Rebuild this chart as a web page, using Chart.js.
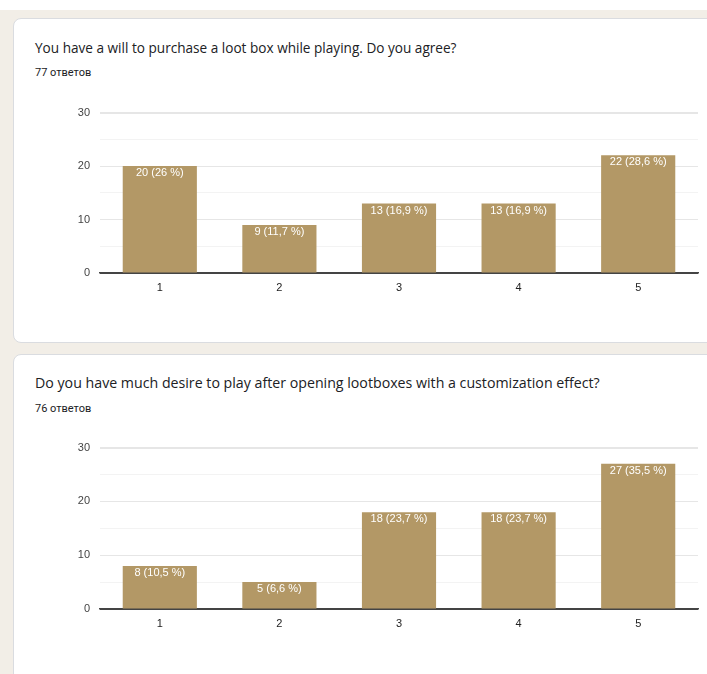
<!DOCTYPE html>
<html>
<head>
<meta charset="utf-8">
<script src="https://cdn.jsdelivr.net/npm/chart.js@4.4.0/dist/chart.umd.min.js"></script>
<style>
  html, body { margin: 0; padding: 0; background: #fff; }
  #page { position: relative; width: 707px; height: 674px; overflow: hidden; }
  .bg { position: absolute; left: 0; top: 10px; width: 707px; height: 664px; background: #f2eee7; }
  .card { position: absolute; left: 13px; width: 710px; background: #fff; border: 1px solid #dadce0; border-radius: 8px; box-sizing: border-box; }
  .title { position: absolute; left: 35px; font-family: "Open Sans", Roboto, sans-serif; font-size: 13.6px; color: #202124; white-space: nowrap; }
  .count { position: absolute; left: 35px; font-family: Roboto, sans-serif; font-size: 11px; color: #202124; white-space: nowrap; }
  canvas { position: absolute; left: 0; }
</style>
</head>
<body>
<div id="page">
  <div class="bg"></div>
  <div class="card" style="top:18px;height:325px"></div>
  <div class="card" style="top:354px;height:330px"></div>

  <div class="title" style="top:38px">You have a will to purchase a loot box while playing. Do you agree?</div>
  <div class="count" style="top:66px">77 ответов</div>
  <div style="position:absolute;left:0;top:96px;width:707px;height:200px"><canvas id="chart1"></canvas></div>

  <div class="title" style="top:373px;font-size:14.2px">Do you have much desire to play after opening lootboxes with a customization effect?</div>
  <div class="count" style="top:402px">76 ответов</div>
  <div style="position:absolute;left:0;top:431px;width:707px;height:201px"><canvas id="chart2"></canvas></div>
</div>

<script>
// data
var categories = ["1", "2", "3", "4", "5"];
var answers1 = [20, 9, 13, 13, 22];
var answers2 = [8, 5, 18, 18, 27];
var total1 = 77;
var total2 = 76;
var yTicks = [0, 10, 20, 30];

var barColor = "#b39866";

function pctLabel(v, total) {
  var p = Number((v / total * 100).toFixed(1));
  return v + " (" + String(p).replace(".", ",") + " %)";
}

// labels inside the bars
var barLabels = {
  id: "barLabels",
  afterDatasetsDraw: function (chart) {
    var ctx = chart.ctx;
    var total = chart.options.plugins.barLabels.total;
    var meta = chart.getDatasetMeta(0);
    ctx.save();
    ctx.fillStyle = "#ffffff";
    ctx.font = "11px Arial, 'Liberation Sans', sans-serif";
    ctx.textAlign = "center";
    ctx.textBaseline = "middle";
    meta.data.forEach(function (bar, i) {
      var v = chart.data.datasets[0].data[i];
      ctx.fillText(pctLabel(v, total), bar.x, bar.y + 7);
    });
    ctx.restore();
  }
};

function makeChart(id, values, total, xHeight) {
  var ctx = document.getElementById(id).getContext("2d");
  return new Chart(ctx, {
    type: "bar",
    data: {
      labels: categories,
      datasets: [{
        data: values,
        backgroundColor: barColor,
        categoryPercentage: 1,
        barPercentage: 0.62
      }]
    },
    options: {
      responsive: true,
      maintainAspectRatio: false,
      animation: false,
      layout: { padding: { top: 12, right: 9, left: 0, bottom: 0 } },
      plugins: {
        legend: { display: false },
        tooltip: { enabled: false },
        barLabels: { total: total }
      },
      scales: {
        x: {
          grid: { display: false, drawTicks: false },
          border: { display: true, color: "#444", width: 1.5 },
          ticks: {
            padding: 8,
            color: "#222",
            font: { family: "Arial, 'Liberation Sans', sans-serif", size: 11 }
          },
          afterFit: function (scale) { scale.height = xHeight; }
        },
        y: {
          min: 0,
          max: 30,
          border: { display: false },
          grid: {
            drawTicks: false,
            color: function (c) {
              if (c.tick.value === 0) return "#444";
              return yTicks.indexOf(c.tick.value) >= 0 ? "#e6e6e6" : "#f3f3f3";
            },
            lineWidth: function (c) {
              return c.tick.value === 30 ? 2 : 1;
            }
          },
          ticks: {
            stepSize: 5,
            padding: 10,
            color: "#444",
            font: { family: "Arial, 'Liberation Sans', sans-serif", size: 11 },
            callback: function (v) { return yTicks.indexOf(v) >= 0 ? v : ""; }
          },
          afterFit: function (scale) { scale.width = 100; }
        }
      }
    },
    plugins: [barLabels]
  });
}

var chart1 = makeChart("chart1", answers1, total1, 23);
var chart2 = makeChart("chart2", answers2, total2, 23);
</script>
</body>
</html>
